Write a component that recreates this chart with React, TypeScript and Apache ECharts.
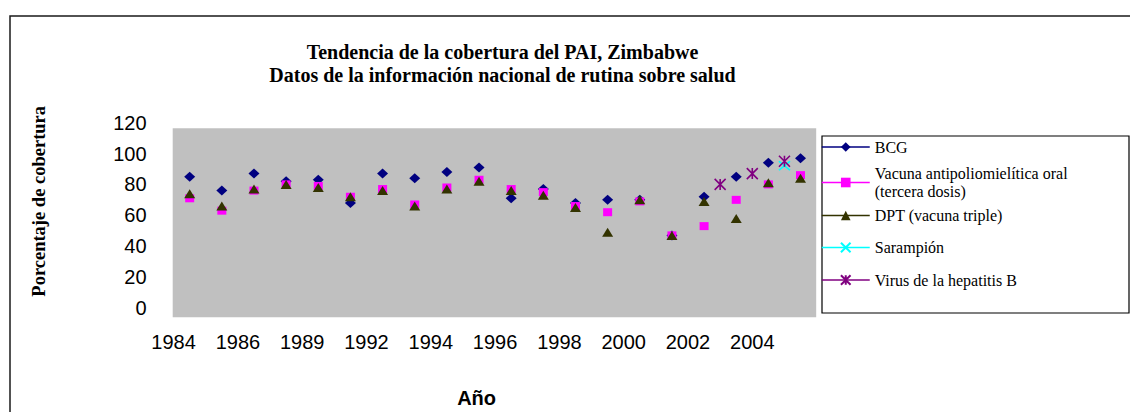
import React, { useEffect, useRef } from "react";
import * as echarts from "echarts";

const categories = [
  "1984", "1985", "1986", "1988", "1989", "1990", "1992", "1993", "1994", "1995",
  "1996", "1997", "1998", "1999", "2000", "2001", "2002", "2003", "2004", "2005",
];
const bcg = [85, 76, 87, 82, 83, 68, 87, 84, 88, 91, 71, 77, 68, 70, 70, 47, 72, 85, 94, 97];
const polio = [71, 63, 76, 80, 79, 72, 77, 67, 78, 83, 77, 75, 66, 62, 69, 47, 53, 70, 80, 86];
const dpt = [74, 66, 77, 80, 78, 72, 76, 66, 77, 82, 76, 73, 65, 49, 70, 47, 69, 58, 81, 84];
const measles: (number | null)[] = [null, null, null, null, null, null, null, null, null, null, null, null, null, null, null, null, null, null, null, 92];
const hepB: (number | null)[] = [null, null, null, null, null, null, null, null, null, null, null, null, null, null, null, null, null, 80, 87, 95];
const yTicks = [0, 20, 40, 60, 80, 100, 120];

const names = [
  "BCG",
  "Vacuna antipoliomielítica oral\n(tercera dosis)",
  "DPT (vacuna triple)",
  "Sarampión",
  "Virus de la hepatitis B",
];

const SERIF = "'Liberation Serif', 'Times New Roman', serif";
const SANS = "'Liberation Sans', Arial, sans-serif";

function centered(vals: (number | null)[]) {
  const out: [number, number][] = [];
  vals.forEach((v, i) => {
    if (v !== null) out.push([i + 0.5, v]);
  });
  return out;
}
function onTick(vals: (number | null)[]) {
  const out: [number, number][] = [];
  vals.forEach((v, i) => {
    if (v !== null) out.push([i, v]);
  });
  return out;
}

export default function App() {
  const ref = useRef<HTMLDivElement>(null);
  useEffect(() => {
    const chart = echarts.init(ref.current!, null, { renderer: "svg" });
    const mkSeries = (
      name: string,
      data: [number, number][],
      color: string,
      symbol: string,
      size: number | number[],
      stroke?: boolean
    ) => ({
      type: "line",
      name,
      data,
      symbol,
      symbolSize: size,
      showSymbol: true,
      lineStyle: { opacity: 0, width: 0, color },
      itemStyle: stroke
        ? { color, borderColor: color, borderWidth: 1.6 }
        : { color, borderWidth: 0 },
      z: 3,
    });
    const legendTops = [131.8, 158.6, 201.8, 235.8, 270.8];
    const legendPads = [
      [12, 0, 0, 0],
      [11, 0, 0, 0],
      [9, 0, 0, 0],
      [0, 0, 5, 0],
      [0, 0, 0, 0],
    ];
    const option: any = {
      animation: false,
      backgroundColor: "#ffffff",
      title: {
        text: "Tendencia de la cobertura del PAI, Zimbabwe\nDatos de la información nacional de rutina sobre salud",
        left: 502.5,
        textAlign: "center",
        top: 40,
        padding: 0,
        textStyle: {
          fontFamily: SERIF,
          fontWeight: "bold",
          fontSize: 20,
          lineHeight: 23,
          color: "#000",
        },
      },
      graphic: [
        {
          type: "rect",
          z: -10,
          silent: true,
          shape: { x: 10, y: 16, width: 1300, height: 600 },
          style: { fill: "none", stroke: "#1a1a1a", lineWidth: 1.5 },
        },
        {
          type: "rect",
          z: -5,
          silent: true,
          shape: { x: 172.7, y: 128.3, width: 643.5, height: 189 },
          style: { fill: "#C0C0C0" },
        },
        {
          type: "rect",
          z: -5,
          silent: true,
          shape: { x: 822, y: 136, width: 307, height: 177 },
          style: { fill: "#ffffff", stroke: "#000", lineWidth: 1.2 },
        },
      ],
      legend: names.map((n, i) => ({
        data: [n],
        orient: "vertical",
        left: 821,
        top: legendTops[i],
        padding: 0,
        itemWidth: 48,
        itemHeight: 12,
        selectedMode: false,
        lineStyle: { opacity: 1, width: 1.5 },
        textStyle: {
          fontFamily: SERIF,
          fontSize: 16,
          lineHeight: 18.4,
          color: "#000",
          padding: legendPads[i],
        },
      })),
      grid: { left: 173.6, right: 313.4, top: 122.6, bottom: 104 },
      xAxis: {
        type: "value",
        min: 0,
        max: 20,
        interval: 2,
        name: "Año",
        nameLocation: "middle",
        nameGap: 80,
        nameTextStyle: {
          fontFamily: SANS,
          fontWeight: "bold",
          fontSize: 20,
          color: "#000",
          padding: [0, 37, 0, 0],
        },
        axisLine: { show: false },
        axisTick: { show: false },
        splitLine: { show: false },
        axisLabel: {
          fontFamily: SANS,
          fontSize: 20,
          color: "#000",
          margin: 24,
          showMaxLabel: false,
          formatter: (v: number) => (v < categories.length ? categories[v] : ""),
        },
      },
      yAxis: {
        type: "value",
        min: yTicks[0],
        max: yTicks[yTicks.length - 1],
        interval: 20,
        name: "Porcentaje de cobertura",
        nameLocation: "middle",
        nameRotate: 90,
        nameGap: 125,
        nameTextStyle: {
          fontFamily: SERIF,
          fontWeight: "bold",
          fontSize: 18.5,
          color: "#000",
          padding: [0, 0, 0, 28],
        },
        axisLine: { show: false },
        axisTick: { show: false },
        splitLine: { show: false },
        axisLabel: { fontFamily: SANS, fontSize: 20, color: "#000", margin: 27 },
      },
      series: [
        mkSeries(names[0], centered(bcg), "#000080", "diamond", [11, 10]),
        mkSeries(names[1], centered(polio), "#FF00FF", "rect", [9, 8]),
        mkSeries(names[2], centered(dpt), "#333300", "triangle", [11, 9]),
        mkSeries(names[3], onTick(measles), "#00FFFF", "path://M0,0L10,10M10,0L0,10", [11, 9], true),
        mkSeries(names[4], onTick(hepB), "#800080", "path://M0,0L10,10M10,0L0,10M5,0L5,10", [11, 11], true),
      ],
    };
    chart.setOption(option);
    return () => chart.dispose();
  }, []);
  return (
    <div
      ref={ref}
      style={{ position: "fixed", left: 0, top: 0, width: 1130, height: 412 }}
    />
  );
}
